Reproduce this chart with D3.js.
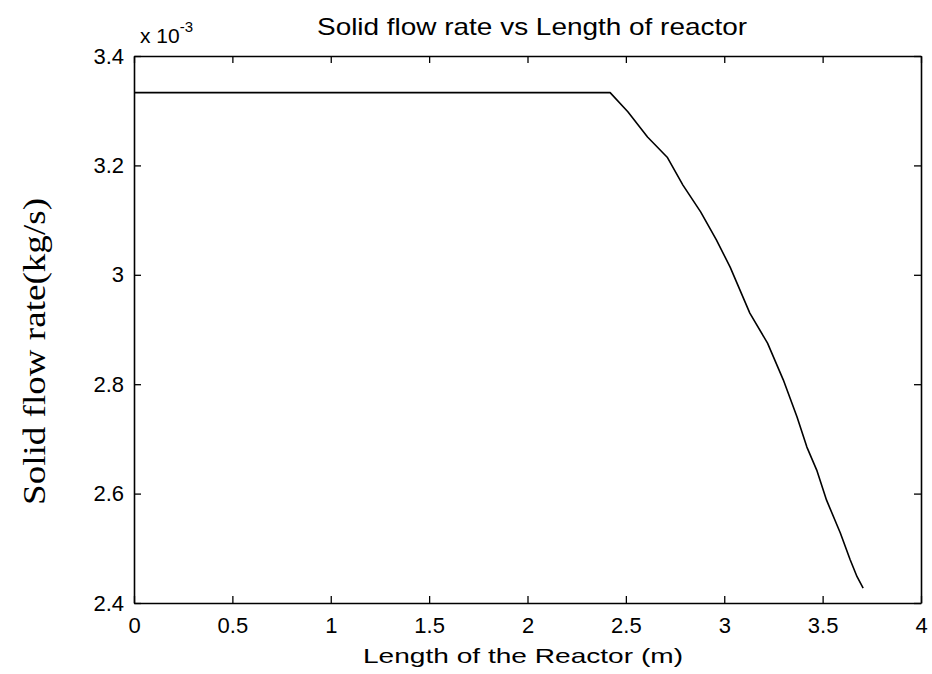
<!DOCTYPE html>
<html>
<head>
<meta charset="utf-8">
<script src="https://cdn.jsdelivr.net/npm/d3@7/dist/d3.min.js"></script>
<style>
  html, body { margin: 0; padding: 0; background: #fff; }
  svg { display: block; }
  .tick text { font-family: "Liberation Sans", Arial, sans-serif; }
</style>
</head>
<body>
<svg id="chart" width="932" height="674"></svg>
<script>
// Reactor length (m) and solid mass flow rate (×10^-3 kg/s)
const reactorLength = [0, 2.42, 2.51, 2.61, 2.71, 2.79, 2.88, 2.96, 3.03, 3.13, 3.22, 3.30, 3.37, 3.42, 3.47, 3.52, 3.59, 3.64, 3.675, 3.706];
const solidFlowRate = [3.333, 3.333, 3.298, 3.252, 3.215, 3.164, 3.115, 3.064, 3.014, 2.930, 2.875, 2.808, 2.740, 2.685, 2.643, 2.588, 2.528, 2.479, 2.448, 2.427];
const xTicks = [0, 0.5, 1, 1.5, 2, 2.5, 3, 3.5, 4];
const yTicks = [2.4, 2.6, 2.8, 3.0, 3.2, 3.4];

const titleText = "Solid flow rate vs Length of reactor";
const xLabelText = "Length of the Reactor (m)";
const yLabelText = "Solid flow rate(kg/s)";

const svg = d3.select("#chart");
const box = { left: 134, right: 921, top: 56, bottom: 603 };

const x = d3.scaleLinear().domain([0, 4]).range([box.left, box.right]);
const y = d3.scaleLinear().domain([2.4, 3.4]).range([box.bottom, box.top]);
const fmt = d3.format("~g");
const tickLen = 7;

// Bottom axis with labels, ticks pointing inward
const gx = svg.append("g").attr("transform", `translate(0,${box.bottom})`)
  .call(d3.axisBottom(x).tickValues(xTicks).tickFormat(fmt).tickSizeInner(-tickLen).tickSizeOuter(0).tickPadding(14));
// Left axis with labels
const gy = svg.append("g").attr("transform", `translate(${box.left},0)`)
  .call(d3.axisLeft(y).tickValues(yTicks).tickFormat(fmt).tickSizeInner(-tickLen).tickSizeOuter(0).tickPadding(10));
// Top and right axes: ticks only
const gt = svg.append("g").attr("transform", `translate(0,${box.top})`)
  .call(d3.axisTop(x).tickValues(xTicks).tickFormat("").tickSizeInner(-tickLen).tickSizeOuter(0));
const gr = svg.append("g").attr("transform", `translate(${box.right},0)`)
  .call(d3.axisRight(y).tickValues(yTicks).tickFormat("").tickSizeInner(-tickLen).tickSizeOuter(0));

[gx, gy, gt, gr].forEach(g => {
  g.select(".domain").attr("stroke", "#000").attr("stroke-width", 1.6);
  g.selectAll(".tick line").attr("stroke", "#000").attr("stroke-width", 1.3);
});
gx.selectAll(".tick text").attr("font-size", 22).attr("fill", "#000").attr("dy", "0.71em");
gy.selectAll(".tick text").attr("font-size", 22).attr("fill", "#000");

// Data curve
const line = d3.line().x((d, i) => x(reactorLength[i])).y(d => y(d));
svg.append("path")
  .datum(solidFlowRate)
  .attr("fill", "none")
  .attr("stroke", "#000")
  .attr("stroke-width", 1.6)
  .attr("stroke-linejoin", "round")
  .attr("d", line);

// Exponent note above the y axis
const expo = svg.append("text")
  .attr("x", box.left + 6).attr("y", 43)
  .attr("font-family", "Liberation Sans, Arial, sans-serif")
  .attr("font-size", 21).attr("fill", "#000");
expo.append("tspan").text("x 10");
expo.append("tspan").attr("font-size", 15).attr("dy", -11).text("-3");

// Title
svg.append("text")
  .attr("x", 317).attr("y", 35)
  .attr("font-family", "Liberation Sans, Arial, sans-serif")
  .attr("font-size", 24).attr("fill", "#000")
  .attr("textLength", 430).attr("lengthAdjust", "spacingAndGlyphs")
  .text(titleText);

// X axis label
svg.append("text")
  .attr("x", 363).attr("y", 663)
  .attr("font-family", "Liberation Sans, Arial, sans-serif")
  .attr("font-size", 21).attr("fill", "#000")
  .attr("textLength", 320).attr("lengthAdjust", "spacingAndGlyphs")
  .text(xLabelText);

// Y axis label (serif)
svg.append("text")
  .attr("transform", `translate(45,505) rotate(-90)`)
  .attr("font-family", "Liberation Serif, 'Times New Roman', serif")
  .attr("font-size", 31).attr("fill", "#000")
  .attr("textLength", 307).attr("lengthAdjust", "spacingAndGlyphs")
  .text(yLabelText);
</script>
</body>
</html>
